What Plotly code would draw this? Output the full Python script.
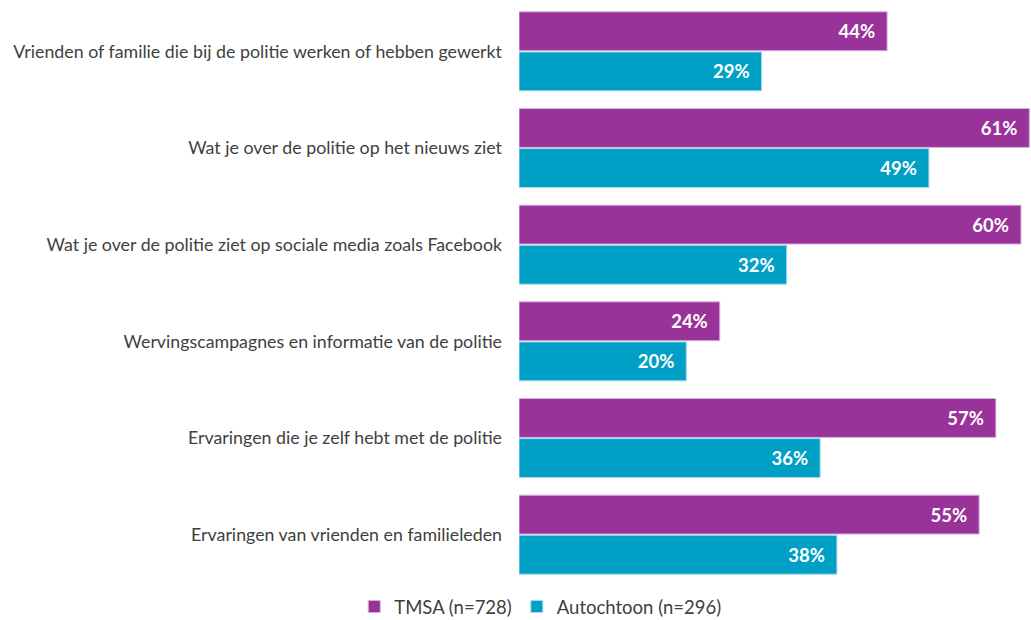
import plotly.graph_objects as go

categories = [
    "Vrienden of familie die bij de politie werken of hebben gewerkt",
    "Wat je over de politie op het nieuws ziet",
    "Wat je over de politie ziet op sociale media zoals Facebook",
    "Wervingscampagnes en informatie van de politie",
    "Ervaringen die je zelf hebt met de politie",
    "Ervaringen van vrienden en familieleden",
]
tmsa = [44, 61, 60, 24, 57, 55]
autochtoon = [29, 49, 32, 20, 36, 38]
series_names = ["TMSA (n=728)", "Autochtoon (n=296)"]

label_font = dict(color="white", size=18.5, family="Lato", weight="bold")
pad = "\u00a0\u00a0"

fig = go.Figure()
fig.add_trace(go.Bar(
    y=categories, x=tmsa, name=series_names[0], orientation="h",
    marker=dict(color="#993399", line=dict(color="#d7b3dc", width=1)),
    text=[f"{v}%{pad}" for v in tmsa], textposition="inside", insidetextanchor="end",
    textfont=label_font, cliponaxis=False,
))
fig.add_trace(go.Bar(
    y=categories, x=autochtoon, name=series_names[1], orientation="h",
    marker=dict(color="#00A0C6", line=dict(color="#a6dcec", width=1)),
    text=[f"{v}%{pad}" for v in autochtoon], textposition="inside", insidetextanchor="end",
    textfont=label_font, cliponaxis=False,
))

fig.update_layout(
    width=1031, height=620,
    margin=dict(l=519, r=0, t=3, b=37),
    barmode="group", bargap=0.17, bargroupgap=0.03,
    plot_bgcolor="white", paper_bgcolor="white",
    font=dict(family="Lato", color="#404040", size=16),
    showlegend=True,
    legend=dict(orientation="h", xref="container", x=0.524, xanchor="center",
                yref="container", y=0.021, yanchor="middle",
                font=dict(size=18.5, color="#404040"), traceorder="normal",
                itemwidth=30),
    uniformtext=dict(mode="show", minsize=10),
)
fig.update_xaxes(range=[0, 61.2], visible=False, showgrid=False, zeroline=False)
fig.update_yaxes(autorange="reversed", showgrid=False, ticks="", showline=False,
                 ticklabelstandoff=16, tickfont=dict(size=17.8, color="#404040"))

fig.write_html("out.html", config={"displayModeBar": False},
               post_script="document.body.style.margin='0';")
